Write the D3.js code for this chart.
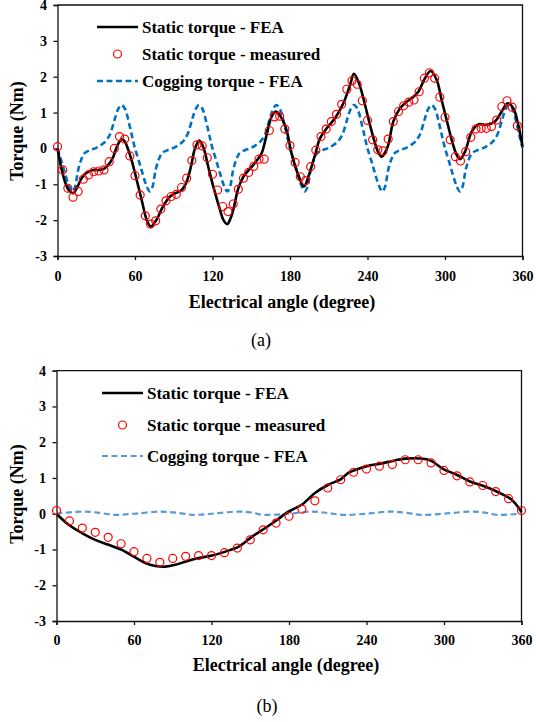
<!DOCTYPE html>
<html>
<head>
<meta charset="utf-8">
<script src="https://cdn.jsdelivr.net/npm/d3@7"></script>
<style>
  html, body { margin: 0; padding: 0; background: #fff; }
  svg text { font-family: "Times New Roman", "Liberation Serif", Tinos, "DejaVu Serif", serif !important; }
</style>
</head>
<body>
<svg id="chart" width="536" height="722"></svg>
<script>
// ---------- Panel (a): 4-pole position ----------
const feaA_deg = [0,3,6,9,12.3,15,18.7,21,23.9,28,31.6,35,38,41,43.2,46,49.7,52,54.8,57.5,60,62.5,65.2,69,72.1,75,78,80.5,83.2,87.1,91,94.8,97.5,100,102,103.9,106.4,109.8,112.9,116.7,120.6,125.8,128.5,131.5,134,136.1,140,143.9,147.5,151.6,155,158.1,161.9,165.8,169.2,173.6,177.4,181.3,186.4,190.8,194.2,199.4,203.2,208.4,214.8,221.3,226.5,229.5,233.4,238.1,241.9,245.8,248.5,251,253.5,256.1,260,265.2,270.6,275,279.3,284.5,288.9,293.6,297.4,301.3,305.2,309,311.6,315.5,320.7,325.8,332.3,338.7,343.9,348.5,352.9,356.7,360];
const feaA_val = [0,-0.55,-0.95,-1.18,-1.25,-1.1,-0.83,-0.72,-0.65,-0.6,-0.6,-0.58,-0.51,-0.38,-0.23,0.05,0.26,0.2,-0.04,-0.35,-0.69,-1.05,-1.44,-1.99,-2.18,-2.08,-1.9,-1.7,-1.53,-1.34,-1.25,-1.2,-1.1,-0.93,-0.7,-0.41,0,0.22,0.03,-0.51,-1.06,-1.71,-2.0,-2.11,-1.95,-1.71,-1.11,-0.79,-0.62,-0.46,-0.3,-0.13,0.38,0.89,1.03,0.84,0.5,-0.15,-0.74,-1.06,-0.79,-0.18,0.28,0.56,0.84,1.26,1.77,2.08,1.82,1.21,0.66,0.15,-0.12,-0.23,-0.12,0.1,0.75,1.12,1.31,1.42,1.58,1.96,2.16,1.91,1.35,0.79,0.24,-0.18,-0.3,-0.09,0.47,0.67,0.66,0.75,1.03,1.26,1.12,0.66,0.05];

// measured every 4 degrees, 0..356
const measA_deg = d3.range(0, 360, 4);
const measA_val = [0.05,-0.6,-1.11,-1.36,-1.2,-0.86,-0.74,-0.65,-0.63,-0.6,-0.37,0.0,0.33,0.26,-0.21,-0.76,-1.3,-1.88,-2.11,-2.02,-1.69,-1.46,-1.34,-1.28,-1.09,-0.83,-0.34,0.1,0.07,-0.26,-0.72,-1.16,-1.62,-1.76,-1.55,-1.14,-0.83,-0.67,-0.5,-0.3,-0.3,0.5,0.88,0.9,0.54,0.08,-0.39,-0.79,-0.9,-0.51,-0.05,0.33,0.54,0.75,0.95,1.23,1.65,1.89,1.79,1.33,0.78,0.24,-0.04,-0.07,0.26,0.75,1.03,1.19,1.29,1.35,1.58,1.96,2.11,1.96,1.43,0.87,0.24,-0.23,-0.35,-0.09,0.31,0.54,0.56,0.56,0.61,0.79,1.17,1.33,1.15,0.63];

const cogA_deg = [0,3,6,9,11.5,13.5,16,18.5,21,25,29,33,37,40.5,44.5,47,49.5,52,56,58,
  60,63,66,69,71.5,73.5,76,78.5,81,85,89,93,97,100.5,104.5,107,109.5,112,116,118,
  120,123,126,129,131.5,133.5,136,138.5,141,145,149,153,157,160.5,164.5,167,169.5,172,176,178,
  180,183,186,189,191.5,193.5,196,198.5,201,205,209,213,217,220.5,224.5,227,229.5,232,236,238,
  240,243,246,249,251.5,253.5,256,258.5,261,265,269,273,277,280.5,284.5,287,289.5,292,296,298,
  300,303,306,309,311.5,313.5,316,318.5,321,325,329,333,337,340.5,344.5,347,349.5,352,356,358,
  360];
const cogA_val = [0,-0.35,-0.72,-1.05,-1.2,-1.08,-0.6,-0.3,-0.13,-0.05,0,0.08,0.19,0.38,0.84,1.1,1.21,1.12,0.61,0.3,
  0,-0.35,-0.72,-1.05,-1.2,-1.08,-0.6,-0.3,-0.13,-0.05,0,0.08,0.19,0.38,0.84,1.1,1.21,1.12,0.61,0.3,
  0,-0.35,-0.72,-1.05,-1.2,-1.08,-0.6,-0.3,-0.13,-0.05,0,0.08,0.19,0.38,0.84,1.1,1.21,1.12,0.61,0.3,
  0,-0.35,-0.72,-1.05,-1.2,-1.08,-0.6,-0.3,-0.13,-0.05,0,0.08,0.19,0.38,0.84,1.1,1.21,1.12,0.61,0.3,
  0,-0.35,-0.72,-1.05,-1.2,-1.08,-0.6,-0.3,-0.13,-0.05,0,0.08,0.19,0.38,0.84,1.1,1.21,1.12,0.61,0.3,
  0,-0.35,-0.72,-1.05,-1.2,-1.08,-0.6,-0.3,-0.13,-0.05,0,0.08,0.19,0.38,0.84,1.1,1.21,1.12,0.61,0.3,
  0.02];

// ---------- Panel (b) ----------
const feaB_deg = [0,9.4,19.7,30,40.4,50.7,59.8,68.8,76.5,84.2,92,99.7,110.1,120.4,130.7,141.1,151.4,161.7,172,177,182.3,189.8,200.1,210.4,220.3,225.9,240.2,250.4,262,269.8,285.3,290.5,299.5,309.8,320.1,331.7,342,352.4,360];
const feaB_val = [0,-0.31,-0.54,-0.73,-0.87,-1.01,-1.2,-1.38,-1.46,-1.48,-1.43,-1.34,-1.24,-1.17,-1.06,-0.92,-0.64,-0.4,-0.14,0.0,0.11,0.25,0.58,0.81,0.97,1.14,1.33,1.4,1.49,1.54,1.53,1.47,1.25,1.09,0.9,0.76,0.6,0.39,0.05];

// measured every 10 degrees, 0..360
const measB_deg = d3.range(0, 361, 10);
const measB_val = [0.09,-0.2,-0.4,-0.52,-0.66,-0.84,-1.06,-1.25,-1.36,-1.25,-1.19,-1.17,-1.17,-1.09,-0.96,-0.73,-0.45,-0.26,-0.07,0.13,0.36,0.72,0.95,1.16,1.25,1.33,1.38,1.51,1.51,1.42,1.21,1.06,0.89,0.79,0.62,0.42,0.09];

const cogB_deg = [0,10,20,30,45,60,80,95,105,120,140,150,160,180,198,210,222,240,258,270,282,300,320,330,341,360];
const cogB_val = [0,0.04,0.06,0.04,-0.03,0.0,0.06,0.02,-0.03,0.0,0.06,0.04,-0.03,0.0,0.06,0.02,-0.03,0.0,0.06,0.03,-0.03,0.0,0.06,0.04,-0.03,0.0];

const xTicks = [0, 60, 120, 180, 240, 300, 360];
const yTicks = [-3, -2, -1, 0, 1, 2, 3, 4];
const legendLabels = ["Static torque - FEA", "Static torque - measured", "Cogging torque - FEA"];
const SERIF = "'Times New Roman', 'Liberation Serif', Tinos, 'DejaVu Serif', serif";

const svg = d3.select("#chart");

function zip(xs, ys) { return xs.map((x, i) => [x, ys[i]]); }

function panel(cfg) {
  const x = d3.scaleLinear().domain([0, 360]).range([cfg.left, cfg.right]);
  const y = d3.scaleLinear().domain([-3, 4]).range([cfg.bottom, cfg.top]);
  const g = svg.append("g").attr("font-family", SERIF);

  // frame (top and right edges)
  g.append("path")
    .attr("d", `M${cfg.left},${cfg.top}H${cfg.right}V${cfg.bottom}`)
    .attr("fill", "none").attr("stroke", "#111").attr("stroke-width", 1.3);

  const fmt = d => String(d);
  const ax = g.append("g").attr("transform", `translate(0,${cfg.bottom})`)
    .call(d3.axisBottom(x).tickValues(xTicks).tickSize(4).tickPadding(cfg.xPad).tickFormat(fmt));
  const ay = g.append("g").attr("transform", `translate(${cfg.left},0)`)
    .call(d3.axisLeft(y).tickValues(yTicks).tickSize(4).tickPadding(6.5).tickFormat(fmt));
  [ax, ay].forEach(a => {
    a.attr("font-family", SERIF);
    a.selectAll("path,line").attr("stroke", "#111").attr("stroke-width", 1.3);
    a.selectAll("text").attr("font-weight", "bold").attr("font-size", 14).attr("fill", "#000");
  });

  const line = d3.line().x(d => x(d[0])).y(d => y(d[1])).curve(d3.curveCatmullRom.alpha(0.5));

  g.append("path").datum(zip(cfg.cogDeg, cfg.cogVal)).attr("d", line)
    .attr("fill", "none").attr("stroke", cfg.cogColor).attr("stroke-width", cfg.cogWidth)
    .attr("stroke-dasharray", cfg.cogDash);
  g.append("path").datum(zip(cfg.feaDeg, cfg.feaVal)).attr("d", line)
    .attr("fill", "none").attr("stroke", "#000").attr("stroke-width", 2.6);
  g.selectAll("circle.m").data(zip(cfg.measDeg, cfg.measVal)).enter().append("circle")
    .attr("class", "m").attr("cx", d => x(d[0])).attr("cy", d => y(d[1])).attr("r", 4)
    .attr("fill", "none").attr("stroke", "#ff0000").attr("stroke-width", 1.2);

  // legend
  const L = cfg.legend;
  g.append("line").attr("x1", L.x0).attr("x2", L.x1).attr("y1", L.rows[0]).attr("y2", L.rows[0])
    .attr("stroke", "#000").attr("stroke-width", 2.6);
  g.append("circle").attr("cx", (L.x0 + L.x1) / 2).attr("cy", L.rows[1]).attr("r", 4)
    .attr("fill", "none").attr("stroke", "#ff0000").attr("stroke-width", 1.2);
  g.append("line").attr("x1", L.x0).attr("x2", L.x1).attr("y1", L.rows[2]).attr("y2", L.rows[2])
    .attr("stroke", cfg.cogColor).attr("stroke-width", cfg.cogWidth).attr("stroke-dasharray", cfg.cogDash);
  legendLabels.forEach((t, i) => {
    g.append("text").attr("x", L.tx).attr("y", L.rows[i]).attr("dy", "0.34em")
      .attr("font-weight", "bold").attr("font-size", 17).text(t);
  });

  // axis titles and caption
  g.append("text").attr("x", cfg.xTitle[0]).attr("y", cfg.xTitle[1]).attr("dy", "0.34em")
    .attr("text-anchor", "middle").attr("font-weight", "bold").attr("font-size", 18)
    .text("Electrical angle (degree)");
  g.append("text").attr("transform", `translate(${cfg.yTitle[0]},${cfg.yTitle[1]}) rotate(-90)`)
    .attr("dy", "0.34em").attr("text-anchor", "middle").attr("font-weight", "bold").attr("font-size", 18)
    .text("Torque (Nm)");
  g.append("text").attr("x", cfg.caption[0]).attr("y", cfg.caption[1]).attr("dy", "0.34em")
    .attr("text-anchor", "middle").attr("font-size", 18).text(cfg.captionText);
}

panel({
  left: 57.5, right: 522.5, top: 5, bottom: 256, xPad: 11,
  feaDeg: feaA_deg, feaVal: feaA_val, measDeg: measA_deg, measVal: measA_val,
  cogDeg: cogA_deg, cogVal: cogA_val, cogColor: "#0070c0", cogWidth: 2.6, cogDash: "6,3.5",
  legend: { x0: 97, x1: 138, tx: 142, rows: [27, 54, 81] },
  xTitle: [282, 302], yTitle: [17, 131], caption: [261, 340], captionText: "(a)"
});

panel({
  left: 56.5, right: 521.5, top: 370.7, bottom: 621, xPad: 10,
  feaDeg: feaB_deg, feaVal: feaB_val, measDeg: measB_deg, measVal: measB_val,
  cogDeg: cogB_deg, cogVal: cogB_val, cogColor: "#5b9bd5", cogWidth: 2.2, cogDash: "6,3.5",
  legend: { x0: 102, x1: 143, tx: 147, rows: [393, 425, 456] },
  xTitle: [286, 665], yTitle: [17, 494], caption: [267, 706], captionText: "(b)"
});
</script>
</body>
</html>
